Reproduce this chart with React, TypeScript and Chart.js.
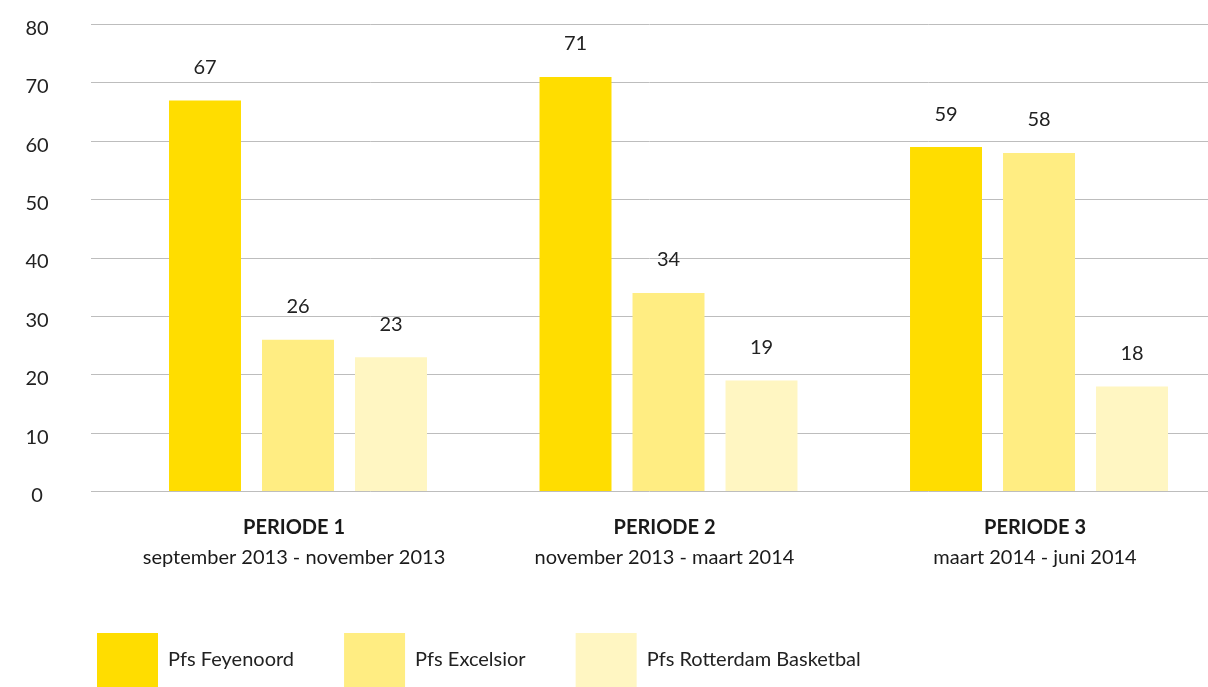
import React, { useEffect, useRef } from "react";
import { Chart, registerables } from "chart.js";

Chart.register(...registerables);

const FONT = "Lato, 'Open Sans', 'DejaVu Sans', sans-serif";

const periodIndex = [1, 2, 3];
const periodTitles = ["PERIODE 1", "PERIODE 2", "PERIODE 3"];
const periodRanges = [
  "september 2013 - november 2013",
  "november 2013 - maart 2014",
  "maart 2014 - juni 2014",
];
const seriesNames = ["Pfs Feyenoord", "Pfs Excelsior", "Pfs Rotterdam Basketbal"];
const feyenoord = [67, 71, 59];
const excelsior = [26, 34, 58];
const basketbal = [23, 19, 18];
const seriesColors = ["#FFDD00", "#FFED82", "#FFF6C2"];
const yMin = 0;
const yMax = 80;
const yStep = 10;

const valueLabels = {
  id: "valueLabels",
  afterDatasetsDraw(chart: any) {
    const ctx = chart.ctx;
    ctx.save();
    ctx.font = `20px ${FONT}`;
    ctx.fillStyle = "#222222";
    ctx.textAlign = "center";
    ctx.textBaseline = "middle";
    chart.data.datasets.forEach((ds: any, i: number) => {
      const meta = chart.getDatasetMeta(i);
      meta.data.forEach((el: any, j: number) => {
        const v = ds.data[j].y;
        ctx.fillText(String(v), el.x, el.y - 33);
      });
    });
    ctx.restore();
  },
};

const periodLabels = {
  id: "periodLabels",
  afterDraw(chart: any) {
    const ctx = chart.ctx;
    const xs = chart.scales.x;
    const base = chart.chartArea.bottom;
    ctx.save();
    ctx.fillStyle = "#1a1a1a";
    ctx.textAlign = "center";
    ctx.textBaseline = "middle";
    periodIndex.forEach((p, i) => {
      const x = xs.getPixelForValue(p);
      ctx.font = `bold 20px ${FONT}`;
      ctx.fillText(periodTitles[i], x - 4, base + 36);
      ctx.font = `20px ${FONT}`;
      ctx.fillText(periodRanges[i], x - 4, base + 66);
    });
    ctx.restore();
  },
};

const legendShift = {
  id: "legendShift",
  afterLayout(chart: any) {
    if (chart.legend) chart.legend.left = 47;
  },
};

export default function App() {
  const canvasRef = useRef<HTMLCanvasElement | null>(null);

  useEffect(() => {
    document.body.style.margin = "0";
    const canvas = canvasRef.current;
    if (!canvas) return;
    const seriesValues = [feyenoord, excelsior, basketbal];
    const chart = new Chart(canvas, {
      type: "bar",
      data: {
        datasets: seriesNames.map((name, i) => ({
          label: name,
          data: periodIndex.map((p, j) => ({ x: p, y: seriesValues[i][j] })),
          backgroundColor: seriesColors[i],
          borderWidth: 0,
          categoryPercentage: 0.753,
          barPercentage: 0.774,
        })),
      },
      options: {
        responsive: false,
        animation: false,
        layout: { padding: { top: 24.5, left: 26, right: 0, bottom: -10 } },
        plugins: {
          tooltip: { enabled: false },
          legend: {
            position: "bottom",
            align: "start",
            labels: {
              boxWidth: 61,
              boxHeight: 54,
              padding: 50,
              color: "#222222",
              font: { family: FONT, size: 20 },
            },
          },
        },
        scales: {
          x: {
            type: "linear",
            min: 0.4413,
            max: 3.4561,
            offset: false,
            afterBuildTicks: (s: any) => {
              s.ticks = periodIndex.map((v) => ({ value: v }));
            },
            ticks: { display: false },
            grid: { display: false },
            border: { display: false },
            afterFit: (s: any) => {
              s.height = 91.5;
            },
          },
          y: {
            min: yMin,
            max: yMax,
            ticks: {
              stepSize: yStep,
              mirror: true,
              padding: -65.5,
              crossAlign: "center",
              labelOffset: 4,
              color: "#222222",
              font: { family: FONT, size: 20 },
            },
            grid: { color: "#bdbdbd", lineWidth: 1, drawTicks: false },
            border: { display: false },
            afterFit: (s: any) => {
              s.width = 65;
            },
          },
        },
      } as any,
      plugins: [valueLabels, periodLabels, legendShift],
    });
    return () => chart.destroy();
  }, []);

  return (
    <div style={{ width: 1208, height: 687, position: "relative" }}>
      <canvas ref={canvasRef} width={1208} height={687} style={{ display: "block" }} />
    </div>
  );
}
